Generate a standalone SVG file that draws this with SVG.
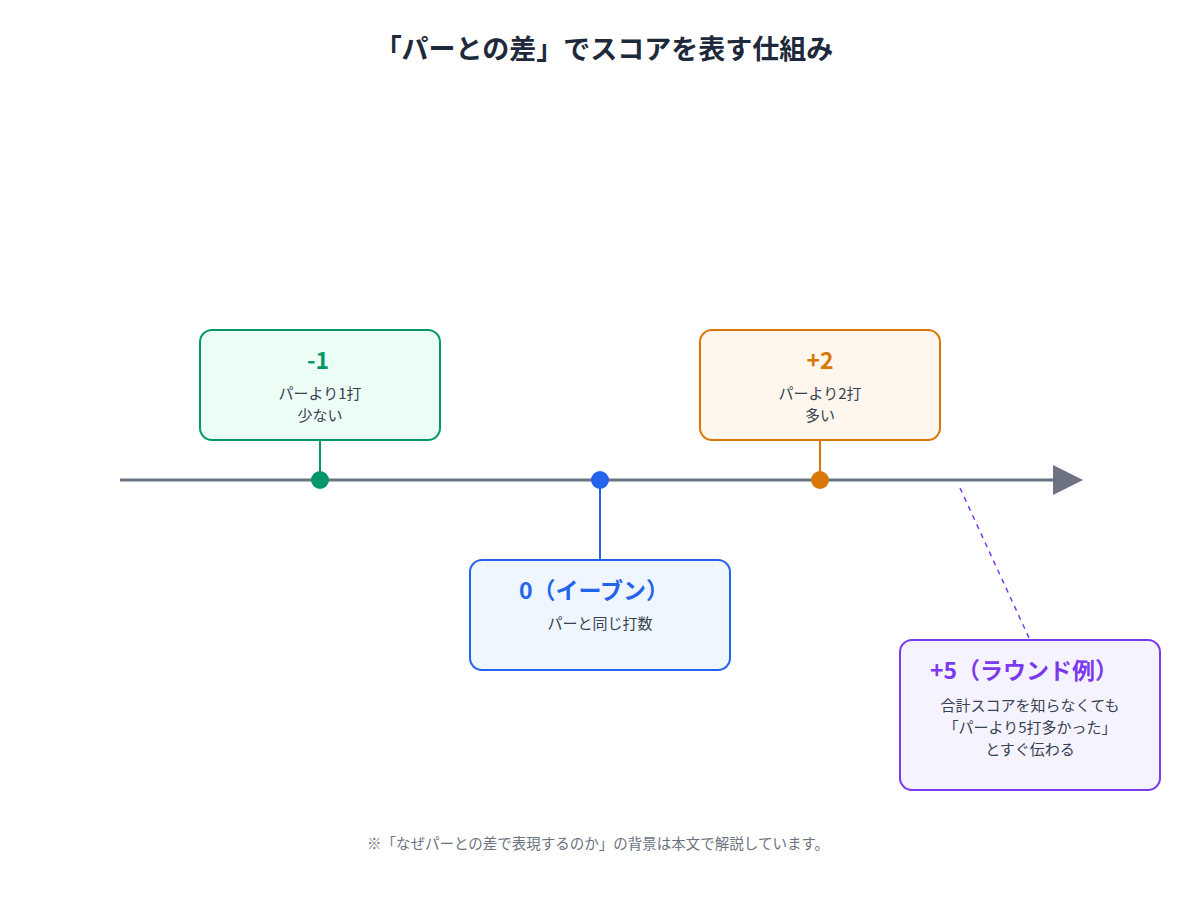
<svg xmlns="http://www.w3.org/2000/svg" width="1200" height="900" viewBox="0 0 1200 900">
<style>
text{font-family:"Noto Sans CJK JP","Noto Sans",sans-serif;text-anchor:middle}
.t{font-size:27px;font-weight:bold;fill:#1e293b}
.h{font-size:23px;font-weight:bold}
.b{font-size:15px;fill:#374151}
.f{font-size:14.5px;fill:#6b7280}
</style>
<rect width="1200" height="900" fill="#fff"/>
<text class="t" x="604" y="59">「パーとの差」でスコアを表す仕組み</text>
<g id="connectors">
<line x1="120" y1="480" x2="1056" y2="480" stroke="#6b7280" stroke-width="3"/>
<polygon points="1053,465 1083,480 1053,495" fill="#6b7280"/>
<line x1="320" y1="440" x2="320" y2="480" stroke="#059669" stroke-width="2"/>
<line x1="600" y1="480" x2="600" y2="560" stroke="#2563eb" stroke-width="2"/>
<line x1="820" y1="440" x2="820" y2="480" stroke="#d97706" stroke-width="2"/>
<line x1="960" y1="488" x2="1030" y2="640" stroke="#7c3aed" stroke-width="1.5" stroke-dasharray="5,5"/>
<circle cx="320" cy="480" r="9" fill="#059669"/>
<circle cx="600" cy="480" r="9" fill="#2563eb"/>
<circle cx="820" cy="480" r="9" fill="#d97706"/>
</g>
<g id="minus1">
<rect x="200" y="330" width="240" height="110" rx="12" fill="#ecfdf5" stroke="#059669" stroke-width="2"/>
<text class="h" x="318" y="369" fill="#059669">-1</text>
<text class="b" x="320" y="399">パーより1打</text>
<text class="b" x="320" y="421">少ない</text>
</g>
<g id="even">
<rect x="470" y="560" width="260" height="110" rx="12" fill="#eff6ff" stroke="#2563eb" stroke-width="2"/>
<text class="h" x="594" y="599" fill="#2563eb">0（イーブン）</text>
<text class="b" x="600" y="629">パーと同じ打数</text>
</g>
<g id="plus2">
<rect x="700" y="330" width="240" height="110" rx="12" fill="#fff7ed" stroke="#d97706" stroke-width="2"/>
<text class="h" x="820" y="369" fill="#d97706">+2</text>
<text class="b" x="820" y="399">パーより2打</text>
<text class="b" x="820" y="421">多い</text>
</g>
<g id="plus5">
<rect x="900" y="640" width="260" height="150" rx="12" fill="#f5f3ff" stroke="#7c3aed" stroke-width="2"/>
<text class="h" x="1024" y="679" fill="#7c3aed">+5（ラウンド例）</text>
<text class="b" x="1030" y="711">合計スコアを知らなくても</text>
<text class="b" x="1030" y="733">「パーより5打多かった」</text>
<text class="b" x="1030" y="755">とすぐ伝わる</text>
</g>
<text class="f" x="598" y="849">※「なぜパーとの差で表現するのか」の背景は本文で解説しています。</text>
</svg>
